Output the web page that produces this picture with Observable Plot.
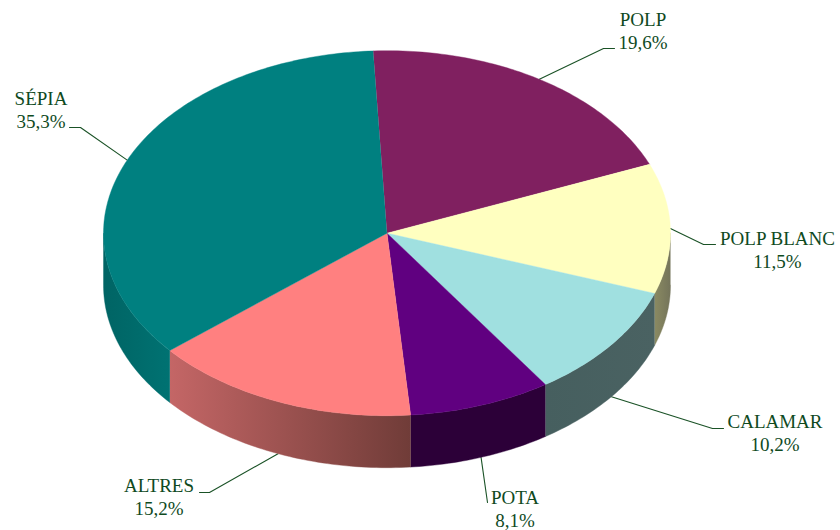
<!DOCTYPE html>
<html>
<head>
<meta charset="utf-8">
<script src="https://cdn.jsdelivr.net/npm/d3@7"></script>
<script src="https://cdn.jsdelivr.net/npm/@observablehq/plot@0.6"></script>
<style>html,body{margin:0;padding:0;background:#fff}svg{display:block}</style>
</head>
<body>
<div id="chart"></div>
<script>
const names = ["POLP", "POLP BLANC", "CALAMAR", "POTA", "ALTRES", "SÉPIA"];
const values = [19.6, 11.5, 10.2, 8.1, 15.2, 35.3];
const topColors = ["#802060", "#ffffc0", "#a0e0e0", "#600080", "#ff8080", "#008080"];
const sideFrom = ["#802060", "#8a8a62", "#465f5f", "#2c0038", "#c46666", "#006464"];
const sideTo = ["#802060", "#74745a", "#4a6262", "#2c0038", "#703c38", "#007272"];
const labelX = [642.5, 777, 774.5, 514.5, 158.5, 40.5];
const labelBaseline = [48, 267, 450, 526, 514, 127];
const elbowA = [[603, 48], [703, 244], [712, 428], [487, 502], [209, 492], [80, 127]];
const elbowB = [[614, 48], [715, 244], [723, 428], [487, 502], [199, 492], [69, 127]];

const cx = 386.5, cy = 232.7, rx = 283.5, ry = 182.5, depth = 52, startAngle = -2.8;
const rad = (a) => a * Math.PI / 180;
const rimX = (a) => cx + rx * Math.sin(rad(a));
const rimY = (a) => cy - ry * Math.cos(rad(a));
const arc = (a0, a1) => {
  const n = Math.max(2, Math.ceil(a1 - a0));
  return d3.range(n + 1).map((i) => a0 + (a1 - a0) * i / n);
};

const total = d3.sum(values);
let running = startAngle;
const slices = names.map((name, i) => {
  const a0 = running;
  const a1 = a0 + values[i] / total * 360;
  running = a1;
  return {name, i, a0, a1, mid: (a0 + a1) / 2};
});

const wedges = slices.flatMap((s) => [
  {key: s.name, fill: topColors[s.i], x: cx, y: cy},
  ...arc(s.a0, s.a1).map((a) => ({key: s.name, fill: topColors[s.i], x: rimX(a), y: rimY(a)}))
]);

const sides = slices.flatMap((s) => {
  const a0 = Math.max(s.a0, 90), a1 = Math.min(s.a1, 270);
  if (a1 <= a0) return [];
  const f = `url(#side${s.i})`;
  const pts = arc(a0, a1);
  return [
    ...pts.map((a) => ({key: s.name, fill: f, x: rimX(a), y: rimY(a)})),
    ...pts.slice().reverse().map((a) => ({key: s.name, fill: f, x: rimX(a), y: rimY(a) + depth}))
  ];
});

const leaders = slices.flatMap((s) => {
  const onSide = s.mid > 90 && s.mid < 270;
  const yOff = onSide ? depth : 0;
  return [
    {key: s.name, x: rimX(s.mid), y: rimY(s.mid) + yOff},
    {key: s.name, x: elbowA[s.i][0], y: elbowA[s.i][1]},
    {key: s.name, x: elbowB[s.i][0], y: elbowB[s.i][1]}
  ];
});

const labels = slices.map((s) => ({
  x: labelX[s.i],
  y: labelBaseline[s.i],
  text: `${s.name}\n${values[s.i].toFixed(1).replace(".", ",")}%`
}));

const gradients = () => {
  const defs = d3.create("svg:defs");
  slices.forEach((s) => {
    const g = defs.append("linearGradient").attr("id", `side${s.i}`)
      .attr("x1", 0).attr("x2", 1).attr("y1", 0).attr("y2", 0);
    g.append("stop").attr("offset", 0).attr("stop-color", sideFrom[s.i]);
    g.append("stop").attr("offset", 1).attr("stop-color", sideTo[s.i]);
  });
  return defs.node();
};

const chart = Plot.plot({
  width: 840,
  height: 530,
  margin: 0,
  x: {domain: [0, 840], range: [0, 840], axis: null},
  y: {domain: [0, 530], range: [0, 530], axis: null},
  style: {background: "#fff"},
  marks: [
    gradients,
    Plot.line(leaders, {x: "x", y: "y", z: "key", stroke: "#1a5226", strokeWidth: 1.1, curve: "linear"}),
    Plot.line(sides, {x: "x", y: "y", z: "key", fill: "fill", stroke: "fill", strokeWidth: 0.4, curve: "linear"}),
    Plot.line(wedges, {x: "x", y: "y", z: "key", fill: "fill", stroke: "fill", strokeWidth: 0.4, curve: "linear"}),
    Plot.text(labels, {
      x: "x", y: "y", text: "text",
      textAnchor: "middle", lineAnchor: "bottom", lineHeight: 1.17,
      fontFamily: "Liberation Serif", fontSize: 19, fill: "#0f4a1e"
    })
  ]
});
document.getElementById("chart").appendChild(chart);
</script>
</body>
</html>
